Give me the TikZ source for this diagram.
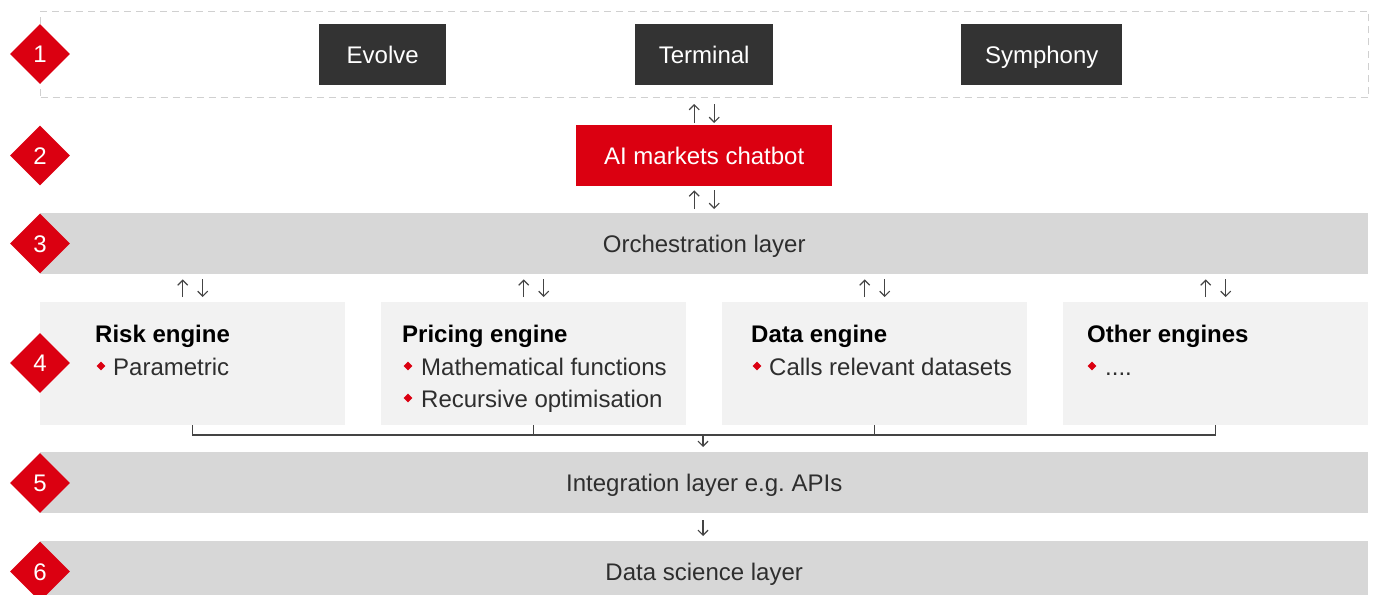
\documentclass[tikz,border=0pt]{standalone}
\usepackage{fontspec}
\setmainfont{Liberation Sans}
\usetikzlibrary{shapes.geometric,arrows.meta,calc}

\definecolor{brandred}{HTML}{DB0011}
\definecolor{darkbox}{HTML}{333333}
\definecolor{bandgray}{HTML}{D7D7D7}
\definecolor{enginegray}{HTML}{F2F2F2}
\definecolor{dashgray}{HTML}{D0D0D0}
\definecolor{linegray}{HTML}{444444}
\definecolor{labelgray}{HTML}{2E2E2E}

\frenchspacing
\begin{document}
\begin{tikzpicture}[x=1pt,y=-1pt,
  font=\fontsize{24}{28}\selectfont,
  band/.style={fill=bandgray, minimum width=1328pt, minimum height=61pt,
    inner sep=0pt, anchor=north west, text=labelgray,
    text height=17.2pt, text depth=0pt},
  channel/.style={fill=darkbox, text=white, minimum height=61pt,
    inner sep=0pt, anchor=north west, text height=17.2pt, text depth=0pt},
  engine/.style={fill=enginegray, minimum width=305pt, minimum height=123pt,
    inner sep=0pt, anchor=north west},
  num/.style={diamond, fill=brandred, text=white, minimum width=60pt,
    minimum height=60pt, inner sep=0pt, text height=17.2pt, text depth=0pt},
  title/.style={anchor=base west, inner sep=0pt, text=black,
    font=\fontsize{24}{28}\selectfont\bfseries},
  item/.style={anchor=base west, inner sep=0pt, text=labelgray},
  bullet/.style={diamond, fill=brandred, minimum width=9pt,
    minimum height=9pt, inner sep=0pt},
  flow/.style={draw=linegray, line width=1.2pt,
    -{Straight Barb[length=5pt,width=10pt]}},
  bracket/.style={draw=linegray, line width=1.2pt}]

\useasboundingbox (0,0) rectangle (1375,594);
\clip (0,0) rectangle (1375,594);

% channels row
\node[draw=dashgray, dash pattern=on 7pt off 5pt, line width=1pt,
  minimum width=1328pt, minimum height=86pt, inner sep=0pt,
  anchor=north west] (channels) at (40,11) {};
\node[channel, minimum width=127pt] (evolve) at (319,24) {Evolve};
\node[channel, minimum width=138pt] (terminal) at (635,24) {Terminal};
\node[channel, minimum width=161pt] (symphony) at (961,24) {Symphony};

% chatbot
\node[channel, fill=brandred, minimum width=256pt] (chat) at (576,125) {AI markets chatbot};

% layers
\node[band] (orch) at (40,213) {Orchestration layer};
\node[band] (integ) at (40,452) {Integration layer e.g. APIs};
\node[band] (datasci) at (40,541) {Data science layer};

% engines
\node[engine] (risk) at (40,302) {};
\node[engine] (pricing) at (381,302) {};
\node[engine] (dataeng) at (722,302) {};
\node[engine] (other) at (1063,302) {};

\node[title] (riskT) at (95,342) {Risk engine};
\node[item] (riskA) at (113,375) {Parametric};
\node[bullet] at (101,366) {};

\node[title] (pricingT) at (402,342) {Pricing engine};
\node[item] (pricingA) at (421,375) {Mathematical functions};
\node[item] (pricingB) at (421,407) {Recursive optimisation};
\node[bullet] at (408,366) {};
\node[bullet] at (408,398) {};

\node[title] (dataT) at (751,342) {Data engine};
\node[item] (dataA) at (769,375) {Calls relevant datasets};
\node[bullet] at (757,366) {};

\node[title] (otherT) at (1087,342) {Other engines};
\node[item] (otherA) at (1105,375) {....};
\node[bullet] at (1092,366) {};

% two-way links channels <-> chatbot <-> orchestration
\draw[flow, shorten <=2pt, shorten >=6pt]
  ($(chat.north)+(-10,0)$) -- ($(chat.north |- channels.south)+(-10,0)$);
\draw[flow, shorten <=6pt, shorten >=2pt]
  ($(chat.north |- channels.south)+(10,0)$) -- ($(chat.north)+(10,0)$);
\draw[flow, shorten <=4pt, shorten >=4pt]
  ($(chat.north |- orch.north)+(-10,0)$) -- ($(chat.south)+(-10,0)$);
\draw[flow, shorten <=4pt, shorten >=4pt]
  ($(chat.south)+(10,0)$) -- ($(chat.north |- orch.north)+(10,0)$);

% two-way links orchestration <-> engines
\foreach \e in {risk,pricing,dataeng,other}{
  \draw[flow, shorten <=5pt, shorten >=5pt]
    ($(\e.north)+(-10,0)$) -- ($(\e.north |- orch.south)+(-10,0)$);
  \draw[flow, shorten <=5pt, shorten >=5pt]
    ($(\e.north |- orch.south)+(10,0)$) -- ($(\e.north)+(10,0)$);
}

% engines feed the integration layer
\coordinate (bus) at (703,435);
\draw[bracket] (risk.south) |- (other.south |- bus) -- (other.south);
\draw[bracket] (pricing.south) -- (pricing.south |- bus);
\draw[bracket] (dataeng.south) -- (dataeng.south |- bus);
\draw[flow, shorten >=5pt] (bus) -- (bus |- integ.north);
\draw[flow, shorten <=7pt, shorten >=5pt] (bus |- integ.south) -- (bus |- datasci.north);

% layer numbers
\node[num] (n1) at (40,54) {1};
\node[num] (n2) at (40,155.5) {2};
\node[num] (n3) at (40,243.5) {3};
\node[num] (n4) at (40,363) {4};
\node[num] (n5) at (40,483) {5};
\node[num] (n6) at (40,571.5) {6};

\end{tikzpicture}
\end{document}
